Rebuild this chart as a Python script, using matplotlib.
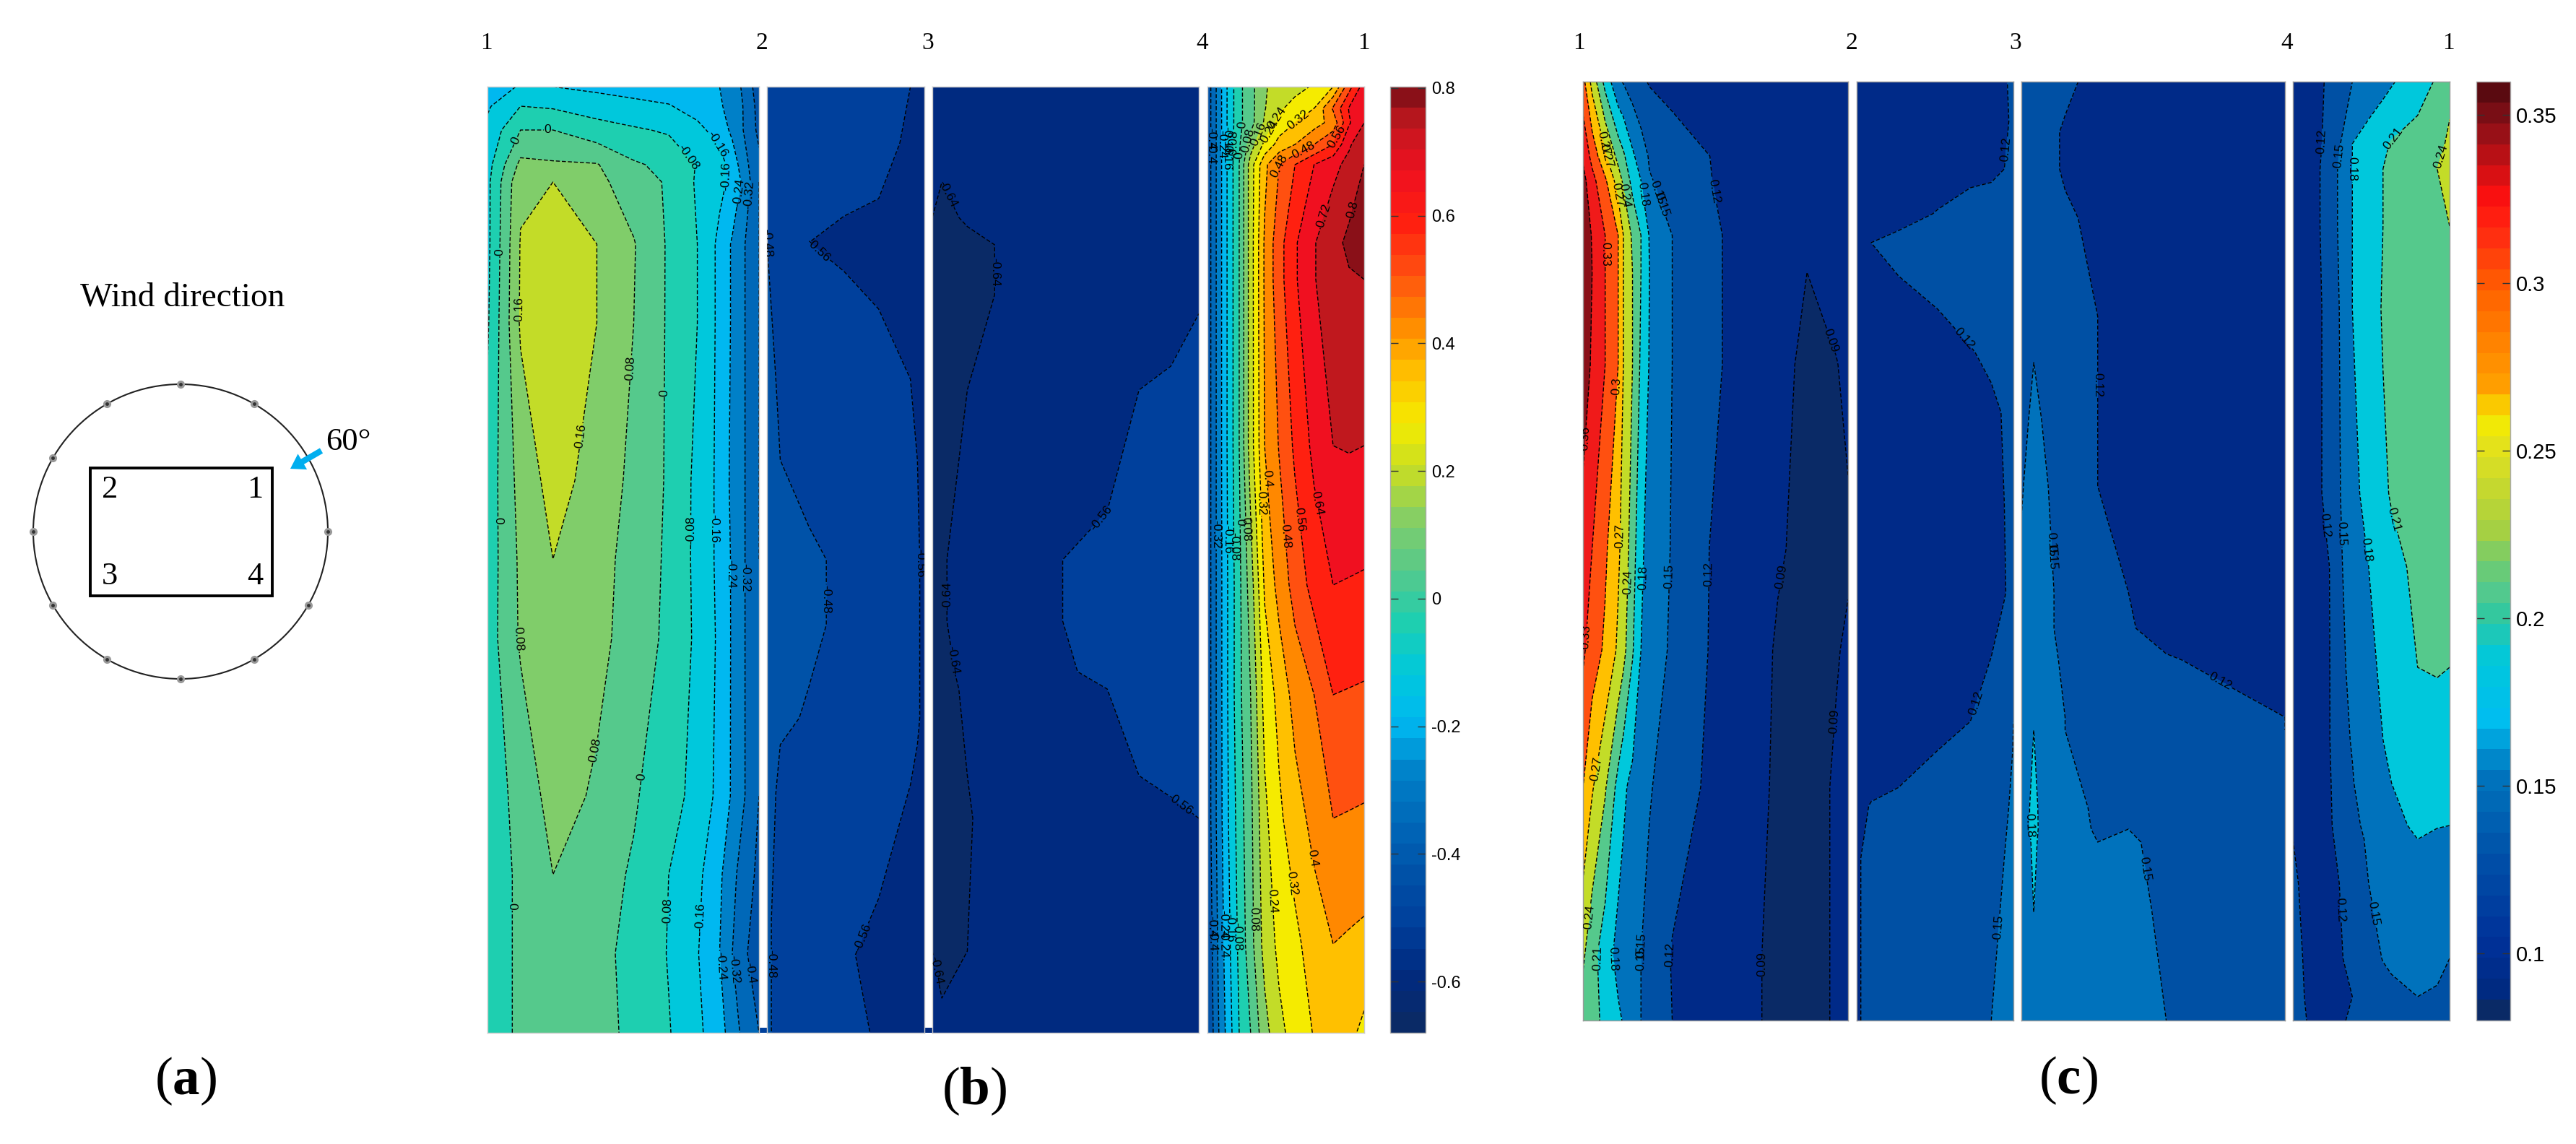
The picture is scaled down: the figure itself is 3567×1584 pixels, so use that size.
import numpy as np
import matplotlib
matplotlib.use("Agg")
import matplotlib.pyplot as plt
from matplotlib.cm import ScalarMappable
from matplotlib.colors import LinearSegmentedColormap, Normalize
from matplotlib.patches import Circle, Rectangle, FancyArrowPatch

W, H = 3567, 1584
plt.rcParams["font.family"] = ["Liberation Sans", "DejaVu Sans"]
plt.rcParams["mathtext.fontset"] = "custom"
plt.rcParams["mathtext.rm"] = "Liberation Serif"
plt.rcParams["mathtext.bf"] = "Liberation Serif:bold"

# ---------- panel (b) values ----------

B_LEVELS = [-0.64, -0.56, -0.48, -0.40, -0.32, -0.24, -0.16, -0.08, 0.0, 0.08,
            0.16, 0.24, 0.32, 0.40, 0.48, 0.56, 0.64, 0.72, 0.80]
B_COLORS = ["#0a2a66", "#002a80", "#00409c", "#0052a8", "#0068b8", "#0080c8", "#00b8f0",
            "#00c8dc", "#1ecfb0", "#55c98c", "#80cd6a", "#c3dc28", "#f5eb00", "#ffc000",
            "#ff8800", "#ff5010", "#ff2010", "#f01020", "#c0181e", "#8a1018"]
B_TICKS = [-0.6, -0.4, -0.2, 0, 0.2, 0.4, 0.6, 0.8]
B_TICK_LABELS = ["-0.6", "-0.4", "-0.2", "0", "0.2", "0.4", "0.6", "0.8"]

B1_X = [40, 92, 143, 212, 270, 325, 370, 405, 425, 445, 467]
B1_Y = [120, 147, 180, 228, 252, 338, 447, 665, 774, 884, 1102, 1211, 1320, 1430]
B1_Z = [
    [-0.22, -0.15, -0.16, -0.18, -0.19, -0.20, -0.21, -0.24, -0.28, -0.34, -0.45],
    [-0.17, -0.08, -0.09, -0.115, -0.14, -0.155, -0.19, -0.23, -0.27, -0.33, -0.43],
    [-0.14, 0.0, 0.0, -0.05, -0.07, -0.09, -0.14, -0.19, -0.26, -0.33, -0.42],
    [-0.11, 0.10, 0.09, 0.085, 0.01, -0.02, -0.085, -0.13, -0.19, -0.30, -0.38],
    [-0.10, 0.145, 0.16, 0.10, 0.04, -0.01, -0.09, -0.14, -0.18, -0.27, -0.40],
    [-0.10, 0.165, 0.20, 0.16, 0.085, -0.01, -0.08, -0.18, -0.25, -0.32, -0.40],
    [-0.09, 0.17, 0.21, 0.16, 0.08, -0.01, -0.08, -0.18, -0.25, -0.32, -0.40],
    [-0.05, 0.11, 0.19, 0.13, 0.06, -0.01, -0.10, -0.18, -0.26, -0.32, -0.40],
    [-0.045, 0.095, 0.16, 0.105, 0.055, -0.015, -0.10, -0.18, -0.25, -0.32, -0.40],
    [-0.04, 0.09, 0.12, 0.10, 0.05, -0.02, -0.095, -0.175, -0.25, -0.32, -0.39],
    [-0.05, 0.03, 0.11, 0.07, 0.01, -0.055, -0.10, -0.185, -0.25, -0.32, -0.40],
    [-0.06, 0.02, 0.08, 0.035, -0.01, -0.08, -0.14, -0.225, -0.30, -0.36, -0.42],
    [-0.06, 0.02, 0.04, 0.015, -0.015, -0.085, -0.155, -0.24, -0.32, -0.385, -0.47],
    [-0.06, 0.02, 0.03, 0.015, -0.01, -0.075, -0.14, -0.215, -0.27, -0.355, -0.40],
]
B1_LABELS = [(135, 178), (80, 193), (390, 207), (355, 219), (425, 244), (425, 265), (450, 270),
             (65, 349), (88, 428), (270, 510), (325, 544), (190, 604), (53, 721), (365, 734),
             (400, 732), (425, 795), (447, 800), (85, 885), (210, 1039), (285, 1076),
             (75, 1255), (325, 1263), (380, 1270), (410, 1337), (435, 1342), (458, 1347)]

B2_X = [479, 500, 545, 600, 655, 705, 727]
B2_Y = [120, 198, 275, 336, 428, 525, 637, 775, 865, 994, 1031, 1098, 1273, 1322, 1430]
B2_Z = [
    [-0.485, -0.50, -0.51, -0.53, -0.545, -0.56, -0.575],
    [-0.485, -0.50, -0.515, -0.53, -0.55, -0.565, -0.58],
    [-0.48, -0.50, -0.53, -0.55, -0.56, -0.575, -0.59],
    [-0.48, -0.52, -0.56, -0.575, -0.59, -0.60, -0.61],
    [-0.475, -0.49, -0.52, -0.54, -0.56, -0.58, -0.60],
    [-0.47, -0.485, -0.50, -0.52, -0.54, -0.56, -0.57],
    [-0.465, -0.48, -0.50, -0.52, -0.54, -0.555, -0.565],
    [-0.45, -0.46, -0.47, -0.49, -0.52, -0.55, -0.565],
    [-0.45, -0.46, -0.47, -0.49, -0.51, -0.55, -0.565],
    [-0.46, -0.47, -0.485, -0.50, -0.52, -0.55, -0.565],
    [-0.465, -0.48, -0.49, -0.50, -0.52, -0.55, -0.57],
    [-0.47, -0.485, -0.50, -0.515, -0.535, -0.562, -0.58],
    [-0.475, -0.49, -0.52, -0.545, -0.565, -0.58, -0.60],
    [-0.475, -0.49, -0.53, -0.555, -0.57, -0.585, -0.60],
    [-0.475, -0.49, -0.52, -0.545, -0.565, -0.58, -0.60],
]
B2_LABELS = [(487, 306), (555, 352), (715, 780), (572, 830), (628, 1297), (487, 1335)]

B3_X = [740, 755, 795, 838, 945, 1015, 1065, 1115, 1159]
B3_Y = [120, 252, 301, 339, 408, 540, 775, 860, 930, 954, 1074, 1133, 1317, 1382, 1430]
B3_Z = [
    [-0.62, -0.615, -0.61, -0.605, -0.60, -0.595, -0.59, -0.585, -0.58],
    [-0.635, -0.64, -0.625, -0.615, -0.60, -0.595, -0.59, -0.585, -0.58],
    [-0.64, -0.65, -0.635, -0.625, -0.60, -0.595, -0.59, -0.585, -0.58],
    [-0.66, -0.66, -0.65, -0.64, -0.605, -0.60, -0.59, -0.585, -0.58],
    [-0.66, -0.66, -0.65, -0.64, -0.61, -0.60, -0.595, -0.575, -0.565],
    [-0.66, -0.655, -0.64, -0.63, -0.60, -0.585, -0.56, -0.555, -0.54],
    [-0.655, -0.645, -0.62, -0.61, -0.56, -0.55, -0.54, -0.535, -0.53],
    [-0.655, -0.645, -0.62, -0.61, -0.56, -0.55, -0.54, -0.53, -0.53],
    [-0.655, -0.65, -0.63, -0.61, -0.565, -0.55, -0.54, -0.53, -0.53],
    [-0.655, -0.65, -0.635, -0.615, -0.58, -0.56, -0.55, -0.54, -0.53],
    [-0.66, -0.655, -0.64, -0.62, -0.60, -0.58, -0.56, -0.55, -0.54],
    [-0.66, -0.655, -0.645, -0.62, -0.60, -0.59, -0.575, -0.57, -0.56],
    [-0.64, -0.65, -0.64, -0.62, -0.60, -0.595, -0.59, -0.58, -0.575],
    [-0.63, -0.64, -0.625, -0.615, -0.60, -0.595, -0.59, -0.58, -0.575],
    [-0.62, -0.62, -0.61, -0.605, -0.60, -0.595, -0.59, -0.58, -0.575],
]
B3_LABELS = [(760, 270), (835, 377), (975, 693), (768, 914), (1130, 1113), (752, 1342), (752, 825)]

B4_X = [1172, 1190, 1205, 1222, 1240, 1262, 1285, 1310, 1340, 1370, 1395, 1419]
B4_Y = [120, 150, 170, 200, 228, 336, 387, 617, 810, 962, 1133, 1307, 1430]
B4_Z = [
    [-0.45, -0.28, -0.14, -0.02, 0.05, 0.155, 0.18, 0.21, 0.25, 0.32, 0.53, 0.68],
    [-0.45, -0.28, -0.14, -0.02, 0.05, 0.155, 0.225, 0.275, 0.32, 0.49, 0.645, 0.70],
    [-0.45, -0.28, -0.14, -0.02, 0.05, 0.17, 0.27, 0.32, 0.365, 0.43, 0.63, 0.72],
    [-0.45, -0.28, -0.14, -0.01, 0.12, 0.26, 0.35, 0.40, 0.48, 0.56, 0.71, 0.77],
    [-0.45, -0.28, -0.14, 0.0, 0.20, 0.38, 0.48, 0.56, 0.64, 0.70, 0.74, 0.80],
    [-0.45, -0.28, -0.14, 0.0, 0.20, 0.41, 0.53, 0.63, 0.715, 0.77, 0.82, 0.85],
    [-0.45, -0.28, -0.14, 0.0, 0.20, 0.41, 0.53, 0.63, 0.715, 0.77, 0.79, 0.80],
    [-0.45, -0.28, -0.14, 0.0, 0.20, 0.40, 0.485, 0.575, 0.66, 0.72, 0.725, 0.72],
    [-0.45, -0.28, -0.15, -0.02, 0.12, 0.33, 0.43, 0.51, 0.59, 0.64, 0.635, 0.63],
    [-0.45, -0.28, -0.15, -0.02, 0.08, 0.27, 0.345, 0.43, 0.48, 0.56, 0.555, 0.55],
    [-0.45, -0.28, -0.16, -0.04, 0.06, 0.22, 0.305, 0.365, 0.425, 0.48, 0.475, 0.47],
    [-0.47, -0.30, -0.18, -0.06, 0.05, 0.19, 0.26, 0.30, 0.36, 0.40, 0.39, 0.38],
    [-0.48, -0.32, -0.20, -0.08, 0.0, 0.13, 0.22, 0.27, 0.325, 0.36, 0.34, 0.30],
]
B4_LABELS = [(1180, 192), (1180, 212), (1192, 200), (1204, 195), (1204, 212), (1216, 200),
             (1228, 173), (1227, 215), (1238, 195), (1250, 185), (1262, 178), (1291, 167),
             (1320, 172), (1288, 230), (1327, 213), (1378, 190), (1349, 297), (1387, 287),
             (1264, 663), (1255, 697), (1227, 723), (1232, 733), (1186, 740), (1205, 747),
             (1216, 757), (1291, 743), (1314, 720), (1345, 697),
             (1180, 1283), (1195, 1280), (1210, 1285), (1225, 1297), (1245, 1273),
             (1270, 1248), (1305, 1223), (1338, 1188), (1180, 1302), (1200, 1307)]

# ---------- panel (c) values ----------

C_LEVELS = [0.09, 0.12, 0.15, 0.18, 0.21, 0.24, 0.27, 0.30, 0.33, 0.36]
C_COLORS = ["#0a2a66", "#002a88", "#0050a4", "#0072bc", "#00c8dc", "#55c98c",
            "#c3dc28", "#ffc000", "#ff5010", "#f01a1a", "#8a1018"]
C_TICKS = [0.1, 0.15, 0.2, 0.25, 0.3, 0.35]
C_TICK_LABELS = ["0.1", "0.15", "0.2", "0.25", "0.3", "0.35"]
C_BAR_VALUES = [0.08, 0.086, 0.10, 0.127, 0.15, 0.159, 0.168, 0.187, 0.20, 0.208, 0.216,
                0.227, 0.25, 0.26, 0.27, 0.30, 0.315, 0.327, 0.35, 0.36]
C_BAR_COLORS = ["#0a2a66", "#002a80", "#003098", "#0050a8", "#0072bc", "#0090d0", "#00bdf0",
                "#00c8dc", "#30c8a0", "#55c98c", "#70cc70", "#a8d040", "#e0e020", "#f5eb00",
                "#ffa000", "#ff6000", "#ff3010", "#ff1010", "#8a1018", "#5a0a10"]

C1_X = [46, 60, 80, 100, 108, 122, 135, 148, 183, 260, 345, 390, 435, 453]
C1_Y = [113, 216, 250, 326, 377, 505, 760, 900, 1090, 1322, 1413]
C1_Z = [
    [0.31, 0.26, 0.20, 0.155, 0.148, 0.135, 0.125, 0.118, 0.11, 0.105, 0.10, 0.10, 0.098, 0.095],
    [0.355, 0.32, 0.275, 0.23, 0.215, 0.185, 0.165, 0.147, 0.135, 0.115, 0.105, 0.10, 0.10, 0.10],
    [0.37, 0.34, 0.305, 0.255, 0.235, 0.20, 0.18, 0.152, 0.14, 0.115, 0.105, 0.10, 0.10, 0.10],
    [0.38, 0.358, 0.33, 0.30, 0.27, 0.235, 0.21, 0.178, 0.15, 0.12, 0.105, 0.10, 0.10, 0.10],
    [0.38, 0.36, 0.33, 0.30, 0.27, 0.24, 0.21, 0.18, 0.15, 0.12, 0.10, 0.09, 0.095, 0.097],
    [0.38, 0.355, 0.33, 0.30, 0.27, 0.24, 0.205, 0.178, 0.15, 0.12, 0.097, 0.085, 0.0895, 0.093],
    [0.345, 0.33, 0.305, 0.275, 0.26, 0.225, 0.185, 0.17, 0.148, 0.11, 0.092, 0.085, 0.085, 0.088],
    [0.335, 0.315, 0.295, 0.265, 0.25, 0.213, 0.18, 0.168, 0.145, 0.11, 0.088, 0.085, 0.089, 0.092],
    [0.30, 0.273, 0.243, 0.20, 0.185, 0.172, 0.165, 0.152, 0.137, 0.107, 0.087, 0.083, 0.092, 0.094],
    [0.245, 0.22, 0.195, 0.17, 0.168, 0.16, 0.15, 0.142, 0.118, 0.10, 0.086, 0.083, 0.092, 0.094],
    [0.225, 0.217, 0.205, 0.185, 0.178, 0.165, 0.15, 0.143, 0.12, 0.10, 0.086, 0.083, 0.092, 0.094],
]
C1_LABELS = [(82, 216), (75, 199), (100, 270), (115, 270), (130, 270), (150, 270), (165, 270),
             (245, 265), (78, 352), (100, 535), (55, 607), (105, 742), (425, 472), (120, 806),
             (145, 800), (178, 798), (235, 795), (345, 798), (55, 882), (62, 1064), (58, 1270),
             (70, 1327), (95, 1327), (115, 1327), (140, 1327), (185, 1322), (315, 1335), (440, 999)]

C2_X = [466, 488, 530, 590, 640, 672, 692, 706]
C2_Y = [113, 168, 234, 260, 296, 336, 382, 428, 489, 571, 820, 999, 1039, 1116, 1188, 1413]
C2_Z = [
    [0.10, 0.10, 0.102, 0.105, 0.11, 0.115, 0.119, 0.122],
    [0.10, 0.10, 0.102, 0.105, 0.108, 0.112, 0.118, 0.122],
    [0.10, 0.102, 0.105, 0.108, 0.112, 0.115, 0.12, 0.125],
    [0.10, 0.103, 0.108, 0.115, 0.12, 0.122, 0.125, 0.127],
    [0.102, 0.107, 0.113, 0.121, 0.125, 0.127, 0.128, 0.13],
    [0.115, 0.12, 0.125, 0.13, 0.132, 0.133, 0.134, 0.135],
    [0.105, 0.11, 0.12, 0.125, 0.128, 0.13, 0.132, 0.133],
    [0.10, 0.103, 0.11, 0.12, 0.125, 0.127, 0.129, 0.13],
    [0.10, 0.10, 0.105, 0.112, 0.119, 0.123, 0.126, 0.128],
    [0.10, 0.10, 0.10, 0.105, 0.11, 0.117, 0.121, 0.125],
    [0.10, 0.10, 0.10, 0.105, 0.11, 0.115, 0.119, 0.125],
    [0.105, 0.105, 0.105, 0.108, 0.12, 0.125, 0.135, 0.15],
    [0.108, 0.108, 0.11, 0.12, 0.125, 0.13, 0.138, 0.151],
    [0.115, 0.121, 0.125, 0.13, 0.135, 0.14, 0.148, 0.152],
    [0.118, 0.125, 0.13, 0.135, 0.14, 0.143, 0.15, 0.153],
    [0.118, 0.125, 0.13, 0.135, 0.14, 0.15, 0.155, 0.158],
]
C2_LABELS = [(685, 206), (630, 469), (645, 972), (680, 1283)]

C3_X = [718, 737, 768, 785, 805, 835, 882, 940, 1122]
C3_Y = [113, 183, 234, 438, 502, 581, 673, 820, 870, 914, 993, 1011, 1118, 1148, 1166, 1263, 1413]
C3_Z = [
    [0.125, 0.125, 0.123, 0.122, 0.12, 0.117, 0.114, 0.11, 0.105],
    [0.122, 0.122, 0.121, 0.119, 0.117, 0.115, 0.112, 0.108, 0.103],
    [0.123, 0.123, 0.121, 0.119, 0.118, 0.115, 0.112, 0.108, 0.103],
    [0.13, 0.13, 0.128, 0.126, 0.124, 0.12, 0.115, 0.108, 0.103],
    [0.14, 0.15, 0.14, 0.135, 0.13, 0.12, 0.115, 0.108, 0.103],
    [0.143, 0.155, 0.142, 0.138, 0.13, 0.12, 0.114, 0.108, 0.104],
    [0.148, 0.16, 0.146, 0.138, 0.13, 0.12, 0.114, 0.108, 0.104],
    [0.155, 0.16, 0.15, 0.142, 0.135, 0.125, 0.12, 0.11, 0.105],
    [0.157, 0.165, 0.15, 0.145, 0.14, 0.13, 0.122, 0.112, 0.106],
    [0.16, 0.168, 0.152, 0.147, 0.142, 0.135, 0.128, 0.122, 0.107],
    [0.165, 0.175, 0.155, 0.15, 0.146, 0.14, 0.135, 0.13, 0.12],
    [0.165, 0.18, 0.156, 0.15, 0.146, 0.14, 0.135, 0.13, 0.12],
    [0.17, 0.185, 0.16, 0.157, 0.153, 0.147, 0.14, 0.135, 0.125],
    [0.17, 0.185, 0.162, 0.16, 0.155, 0.1475, 0.15, 0.138, 0.125],
    [0.17, 0.183, 0.165, 0.162, 0.158, 0.15, 0.155, 0.14, 0.125],
    [0.165, 0.18, 0.165, 0.162, 0.16, 0.158, 0.155, 0.147, 0.13],
    [0.16, 0.165, 0.165, 0.163, 0.16, 0.158, 0.155, 0.15, 0.135],
]
C3_LABELS = [(832, 533), (762, 772), (722, 760), (1015, 957), (730, 1143), (905, 1203)]

C4_X = [1134, 1155, 1190, 1205, 1225, 1250, 1272, 1285, 1325, 1355, 1374]
C4_Y = [113, 199, 234, 313, 428, 683, 785, 924, 1024, 1084, 1143, 1162, 1223, 1327, 1380, 1413]
C4_Z = [
    [0.10, 0.11, 0.123, 0.135, 0.15, 0.16, 0.17, 0.177, 0.198, 0.213, 0.232],
    [0.105, 0.11, 0.125, 0.147, 0.18, 0.193, 0.205, 0.212, 0.22, 0.232, 0.245],
    [0.105, 0.11, 0.127, 0.155, 0.18, 0.197, 0.21, 0.215, 0.232, 0.24, 0.245],
    [0.105, 0.11, 0.127, 0.155, 0.18, 0.198, 0.21, 0.215, 0.228, 0.236, 0.24],
    [0.105, 0.11, 0.125, 0.15, 0.18, 0.198, 0.212, 0.217, 0.225, 0.23, 0.232],
    [0.105, 0.11, 0.125, 0.148, 0.17, 0.192, 0.206, 0.212, 0.22, 0.225, 0.228],
    [0.11, 0.112, 0.12, 0.145, 0.165, 0.18, 0.195, 0.203, 0.215, 0.22, 0.223],
    [0.112, 0.114, 0.119, 0.145, 0.155, 0.172, 0.186, 0.192, 0.21, 0.212, 0.21],
    [0.113, 0.115, 0.119, 0.14, 0.152, 0.17, 0.18, 0.185, 0.195, 0.198, 0.198],
    [0.115, 0.115, 0.118, 0.13, 0.148, 0.168, 0.176, 0.18, 0.19, 0.193, 0.195],
    [0.118, 0.117, 0.117, 0.128, 0.14, 0.16, 0.168, 0.172, 0.185, 0.181, 0.18],
    [0.12, 0.118, 0.116, 0.125, 0.137, 0.155, 0.165, 0.17, 0.18, 0.176, 0.174],
    [0.122, 0.117, 0.116, 0.12, 0.13, 0.15, 0.16, 0.163, 0.168, 0.168, 0.165],
    [0.125, 0.118, 0.115, 0.118, 0.125, 0.14, 0.151, 0.155, 0.16, 0.157, 0.15],
    [0.125, 0.119, 0.113, 0.116, 0.12, 0.13, 0.14, 0.143, 0.15, 0.147, 0.143],
    [0.125, 0.12, 0.113, 0.117, 0.123, 0.128, 0.132, 0.134, 0.14, 0.138, 0.135],
]
C4_LABELS = [(1180, 196), (1205, 216), (1225, 234), (1295, 199), (1360, 216), (1185, 727),
             (1207, 739), (1240, 762), (1288, 719), (1195, 1260), (1258, 1265)]

# ---------- layout, in pixels of the image ----------

B_SEGMENTS = [(675, 1051, B1_X, B1_Y, B1_Z, B1_LABELS), (1062, 1280, B2_X, B2_Y, B2_Z, B2_LABELS),
              (1291, 1660, B3_X, B3_Y, B3_Z, B3_LABELS), (1672, 1889, B4_X, B4_Y, B4_Z, B4_LABELS)]
C_SEGMENTS = [(2192, 2559, C1_X, C1_Y, C1_Z, C1_LABELS), (2571, 2788, C2_X, C2_Y, C2_Z, C2_LABELS),
              (2799, 3164, C3_X, C3_Y, C3_Z, C3_LABELS), (3175, 3392, C4_X, C4_Y, C4_Z, C4_LABELS)]
CORNER_NAMES = ["1", "2", "3", "4", "1"]
B_CORNER_X = [673, 1055, 1285, 1665, 1888]
C_CORNER_X = [2186, 2564, 2791, 3167, 3390]

CIRCLE_ANGLES = [0, 30, 90, 120, 150, 180, 210, 240, 270, 300, 330]  # 60 is under the arrow


def pixel_axes(fig, x0, y0, x1, y1):
    return fig.add_axes([x0 / W, 1 - y1 / H, (x1 - x0) / W, (y1 - y0) / H])


def draw_segment(fig, top, bottom, seg, levels, colors, edge):
    x0, x1, xs, ys, zs, label_at = seg
    ax = pixel_axes(fig, x0, top, x1, bottom)
    z = np.array(zs)
    edges = [-5] + levels + [5]
    ax.contourf(xs, ys, z, levels=edges, colors=colors)
    cs = ax.contour(xs, ys, z, levels=levels, colors="k", linewidths=1.0,
                    linestyles=[(0, (4, 2))])
    ax.set_xlim(xs[0], xs[-1])
    ax.set_ylim(ys[-1], ys[0])
    ax.clabel(cs, manual=label_at, fontsize=12.5, fmt="%g", inline=True, inline_spacing=1, colors="k")
    ax.set_xticks([])
    ax.set_yticks([])
    for s in ax.spines.values():
        s.set_color(edge)
        s.set_linewidth(1.0)
    return ax


def draw_colorbar(fig, x0, x1, top, bottom, cmap, vmin, vmax, ticks, labels, size):
    cax = pixel_axes(fig, x0, top, x1, bottom)
    sm = ScalarMappable(norm=Normalize(vmin, vmax), cmap=cmap)
    cb = fig.colorbar(sm, cax=cax)
    cb.set_ticks(ticks)
    cb.set_ticklabels(labels)
    cb.ax.tick_params(direction="in", left=True, right=True, length=8, width=1.0,
                      color="#333333", labelsize=size, pad=6)
    cb.outline.set_edgecolor("#aaaaaa")
    cb.outline.set_linewidth(1.0)


def main():
    fig = plt.figure(figsize=(W / 100, H / 100), dpi=100)

    # schematic and free text live on one axes that spans the whole image
    bg = fig.add_axes([0, 0, 1, 1])
    bg.set_xlim(0, W)
    bg.set_ylim(H, 0)
    bg.axis("off")

    cx, cy, r = 250, 736, 204
    bg.add_patch(Circle((cx, cy), r, fill=False, ec="#222222", lw=1.5))
    for a in CIRCLE_ANGLES:
        px = cx + r * np.sin(np.radians(a))
        py = cy - r * np.cos(np.radians(a))
        bg.plot(px, py, "o", ms=8, color="#999999", mec="none")
        bg.plot(px, py, "o", ms=3.5, color="#333333", mec="none")
    bg.add_patch(Rectangle((125, 648), 252, 177, fill=False, ec="k", lw=2.8))
    serif = ["Liberation Serif", "DejaVu Serif"]
    bg.text(253, 412, "Wind direction", family=serif, fontsize=34, ha="center", va="center")
    for name, x, y in [("2", 152, 678), ("1", 353, 678), ("3", 152, 798), ("4", 353, 798)]:
        bg.text(x, y, name, family=serif, fontsize=32, ha="center", va="center")
    bg.text(451, 612, "60°", family=serif, fontsize=32, ha="left", va="center")
    bg.add_patch(FancyArrowPatch((445, 624), (402, 649), arrowstyle="simple,head_width=18,head_length=14,tail_width=6",
                                 color="#00aeef", lw=0, shrinkA=0, shrinkB=0))

    for name, x in zip(CORNER_NAMES, B_CORNER_X):
        bg.text(x, 60, name, family=serif, fontsize=24, ha="center", va="center")
    for name, x in zip(CORNER_NAMES, C_CORNER_X):
        bg.text(x, 60, name, family=serif, fontsize=24, ha="center", va="center")

    for letter, x, y in [("a", 257, 1497), ("b", 1349, 1511), ("c", 2864, 1496)]:
        bg.text(x, y, "($\\mathbf{%s}$)" % letter, family=serif, fontsize=54, ha="center", va="center")

    # the white gaps of (b) stop a little above the bottom edge
    bg.add_patch(Rectangle((1051, 1423), 11, 7, fc="#00409c", ec="none"))
    bg.add_patch(Rectangle((1280, 1423), 11, 7, fc="#002a80", ec="none"))

    for seg in B_SEGMENTS:
        draw_segment(fig, 120, 1430, seg, B_LEVELS, B_COLORS, "#c8c8c8")
    for seg in C_SEGMENTS:
        draw_segment(fig, 113, 1413, seg, C_LEVELS, C_COLORS, "#9a9a9a")

    # colour bars are smooth scales running through the band colours
    b_nodes = [-0.68] + [(p + q) / 2 for p, q in zip(B_LEVELS[:-1], B_LEVELS[1:])] + [0.802]
    b_span = b_nodes[-1] - b_nodes[0]
    b_cmap = LinearSegmentedColormap.from_list(
        "wind_b", [((v - b_nodes[0]) / b_span, c) for v, c in zip(b_nodes, B_COLORS)], N=45)
    draw_colorbar(fig, 1925, 1974, 120, 1430, b_cmap, -0.68, 0.802, B_TICKS, B_TICK_LABELS, 17)

    c_span = C_BAR_VALUES[-1] - C_BAR_VALUES[0]
    c_cmap = LinearSegmentedColormap.from_list(
        "wind_c", [((v - C_BAR_VALUES[0]) / c_span, c) for v, c in zip(C_BAR_VALUES, C_BAR_COLORS)], N=45)
    draw_colorbar(fig, 3429, 3476, 113, 1413, c_cmap, 0.08, 0.36, C_TICKS, C_TICK_LABELS, 21)

    fig.savefig("out.png", dpi=100, facecolor="white")


if __name__ == "__main__":
    main()
